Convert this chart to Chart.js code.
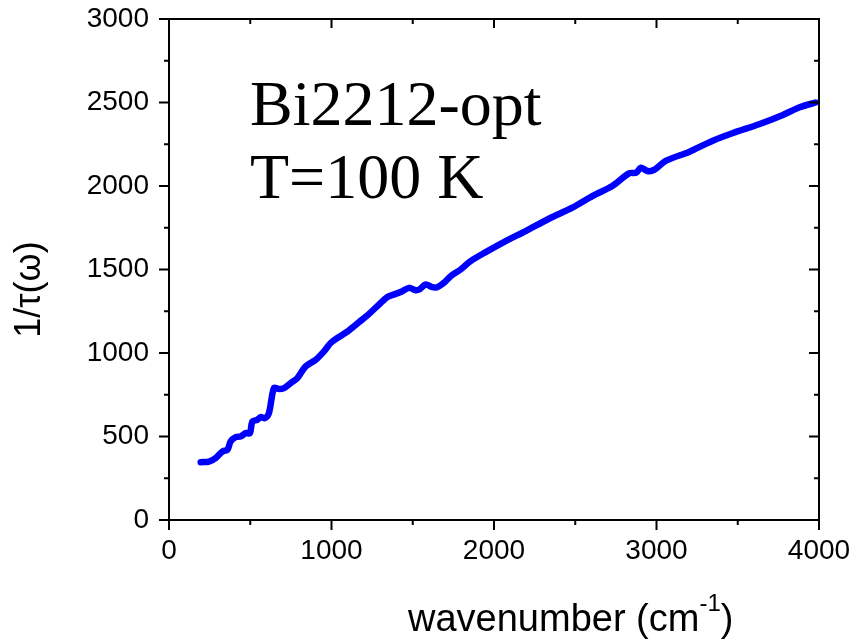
<!DOCTYPE html>
<html><head><meta charset="utf-8">
<script src="https://cdn.jsdelivr.net/npm/chart.js@4/dist/chart.umd.min.js"></script>
<style>html,body{margin:0;padding:0;background:#fff}#wrap{width:858px;height:640px}</style>
</head><body><div id="wrap"><canvas id="c" width="858" height="640"></canvas></div>
<script>
const wavenumber = [195,246,287,328,359,379,410,441,472,498,513,543,564,591,615,646,677,708,749,790,841,903,954,995,1046,1108,1169,1231,1292,1344,1395,1436,1477,1518,1540,1580,1620,1651,1692,1733,1795,1856,1949,2072,2195,2338,2482,2605,2728,2831,2876,2903,2944,2985,3056,3200,3343,3467,3631,3774,3877,3979];
const scatteringRate = [346,350,370,410,420,470,496,500,520,520,590,600,616,610,640,790,784,790,820,850,920,960,1010,1060,1096,1136,1184,1234,1290,1336,1354,1370,1390,1376,1380,1410,1394,1394,1420,1460,1500,1550,1604,1670,1730,1804,1870,1940,2000,2076,2080,2110,2090,2096,2150,2204,2270,2316,2370,2424,2470,2500];
const xTicks = [0,1000,2000,3000,4000];
const yTicks = [0,500,1000,1500,2000,2500,3000];
const annotationLines = ["Bi2212-opt","T=100 K"];
const xTitle = ["wavenumber (cm", "-1", ")"];
const yTitle = "1/\u03C4(\u03C9)";

const points = wavenumber.map((x,i)=>({x, y: scatteringRate[i]}));
const SANS = '"Liberation Sans", Arial, sans-serif';

const framePlugin = {
  id:'frame',
  afterDraw(chart){
    const {ctx, chartArea:a, scales:{x, y}} = chart;
    ctx.save();
    ctx.strokeStyle='#000'; ctx.lineWidth=2;
    ctx.strokeRect(a.left, a.top, a.right-a.left, a.bottom-a.top);
    ctx.beginPath();
    for (let v=0; v<=4000; v+=500){
      const p = x.getPixelForValue(v), major = (v%1000===0);
      ctx.moveTo(p, a.bottom); ctx.lineTo(p, a.bottom+(major?10:5));
      ctx.moveTo(p, a.top); ctx.lineTo(p, a.top+(major?9:5));
    }
    for (let v=0; v<=3000; v+=250){
      const p = y.getPixelForValue(v), major = (v%500===0);
      ctx.moveTo(a.left, p); ctx.lineTo(a.left-(major?10:5), p);
      ctx.moveTo(a.right, p); ctx.lineTo(a.right-(major?10:5), p);
    }
    ctx.stroke();
    ctx.fillStyle='#000';
    // annotation
    ctx.font='64px "Liberation Serif", "Times New Roman", serif';
    ctx.textBaseline='alphabetic'; ctx.textAlign='left';
    ctx.fillText(annotationLines[0], 250, 125);
    ctx.fillText(annotationLines[1], 250, 198);
    // x title with superscript
    const big = '38px '+SANS, small = '24px '+SANS;
    ctx.font = big; const w1 = ctx.measureText(xTitle[0]).width;
    ctx.font = small; const w2 = ctx.measureText(xTitle[1]).width;
    let sx = 408;
    const base = 631;
    ctx.font = big; ctx.fillText(xTitle[0], sx, base); sx += w1;
    ctx.font = small; ctx.fillText(xTitle[1], sx, base-20); sx += w2;
    ctx.font = big; ctx.fillText(xTitle[2], sx, base);
    // y title
    ctx.save();
    ctx.translate(30, (a.top+a.bottom)/2 + 20);
    ctx.rotate(-Math.PI/2);
    ctx.font = '36px '+SANS; ctx.textAlign='center'; ctx.textBaseline='middle';
    ctx.fillText(yTitle, 0, 0);
    ctx.restore();
    ctx.restore();
  }
};

new Chart(document.getElementById('c'), {
  type:'scatter',
  data:{datasets:[{data:points, showLine:true, borderColor:'#0000FF', backgroundColor:'#0000FF',
    borderWidth:6.5, pointRadius:0, tension:0.3, borderCapStyle:'round', borderJoinStyle:'round'}]},
  options:{
    responsive:false, animation:false,
    layout:{padding:{top:19, right:39, left:0, bottom:0}},
    plugins:{legend:{display:false}, tooltip:{enabled:false}},
    scales:{
      x:{type:'linear', min:0, max:4000,
        afterBuildTicks(s){ s.ticks = xTicks.map(v=>({value:v})); },
        afterFit(s){ s.height = 120; s.paddingLeft = 0; s.paddingRight = 0; },
        grid:{display:false, drawTicks:false}, border:{display:false},
        ticks:{font:{family:SANS, size:28}, color:'#000', padding:14, maxRotation:0, autoSkip:false, callback:v=>String(v)},
        title:{display:false}
      },
      y:{type:'linear', min:0, max:3000,
        afterBuildTicks(s){ s.ticks = yTicks.map(v=>({value:v})); },
        afterFit(s){ s.width = 169; s.paddingTop = 0; s.paddingBottom = 0; },
        grid:{display:false, drawTicks:false}, border:{display:false},
        ticks:{font:{family:SANS, size:28}, color:'#000', padding:20, autoSkip:false, callback:v=>String(v)},
        title:{display:false}
      }
    }
  },
  plugins:[framePlugin]
});
</script></body></html>
